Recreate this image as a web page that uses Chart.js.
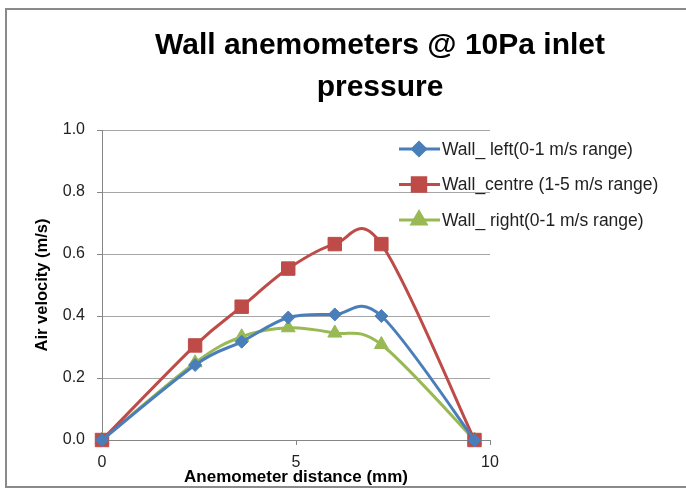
<!DOCTYPE html>
<html>
  <head>
    <script src="https://cdn.jsdelivr.net/npm/chart.js@4.4.0/dist/chart.umd.min.js"></script>
    <style>
      body { margin: 0; background: #fff; }
    </style>
  </head>

  <body>
    <canvas id="canvas" width="686" height="489"></canvas>
    <script>
      const titleLines = ['Wall anemometers @ 10Pa inlet', 'pressure'];
      const distances = [0, 2.4, 3.6, 4.8, 6.0, 7.2, 9.6];
      const wallLeft = [0, 0.242, 0.317, 0.395, 0.405, 0.40, 0];
      const wallCentre = [0, 0.305, 0.43, 0.553, 0.632, 0.632, 0];
      const wallRight = [0, 0.249, 0.333, 0.362, 0.345, 0.308, 0];
      const seriesNames = ['Wall_ left(0-1 m/s range)', 'Wall_centre (1-5 m/s range)', 'Wall_ right(0-1 m/s range)'];
      const xTitle = 'Anemometer distance (mm)';
      const yTitle = 'Air velocity (m/s)';

      const toPoints = (ys) => ys.map((y, i) => ({ x: distances[i], y: y }));

      const makeSet = (label, ys, color, style, radius) => ({
        label: label,
        data: toPoints(ys),
        showLine: true,
        borderColor: color,
        backgroundColor: color,
        borderWidth: 3,
        tension: 0.4,
        pointStyle: style,
        pointRadius: radius,
        pointHoverRadius: radius,
        pointBorderWidth: 1,
        pointBorderColor: color,
        pointBackgroundColor: color,
        clip: false,
      });

      // Excel-style smoothing: control points at 1/6 of the neighbour difference
      const excelSmooth = {
        id: 'excelSmooth',
        beforeDatasetDraw(chart, args) {
          const meta = args.meta;
          const line = meta.dataset;
          if (!line) return;
          line.updateControlPoints(chart.chartArea, meta.iScale.axis);
          const pts = meta.data;
          pts.forEach((p, i) => {
            const prev = pts[i - 1] || p;
            const next = pts[i + 1] || p;
            const dx = (next.x - prev.x) / 6;
            const dy = (next.y - prev.y) / 6;
            p.cp1x = p.x - dx;
            p.cp1y = p.y - dy;
            p.cp2x = p.x + dx;
            p.cp2y = p.y + dy;
          });
          line._path = undefined;
        },
      };

      // white background, outer frame, title and legend drawn by hand (Excel-like placement)
      const decor = {
        id: 'decor',
        beforeDraw(chart) {
          const ctx = chart.ctx;
          ctx.save();
          ctx.fillStyle = '#fff';
          ctx.fillRect(0, 0, chart.width, chart.height);
          ctx.restore();
        },
        afterDraw(chart) {
          const ctx = chart.ctx;
          ctx.save();
          ctx.strokeStyle = '#8a8a8a';
          ctx.lineWidth = 2;
          ctx.strokeRect(6, 9, chart.width + 10, 478);

          ctx.fillStyle = '#000';
          ctx.font = 'bold 30px "Liberation Sans"';
          ctx.textAlign = 'center';
          ctx.textBaseline = 'middle';
          ctx.fillText(titleLines[0], 380, 46);
          ctx.fillText(titleLines[1], 380, 88);

          ctx.textAlign = 'left';
          ctx.font = '17.5px "Liberation Sans"';
          chart.data.datasets.forEach((ds, i) => {
            const y = 149 + i * 35.5;
            ctx.strokeStyle = ds.borderColor;
            ctx.lineWidth = 3;
            ctx.beginPath();
            ctx.moveTo(399, y);
            ctx.lineTo(440, y);
            ctx.stroke();
            ctx.fillStyle = ds.pointBackgroundColor;
            ctx.strokeStyle = ds.pointBorderColor;
            Chart.helpers.drawPoint(ctx, { pointStyle: ds.pointStyle, radius: ds.pointRadius, rotation: 0, borderWidth: 1 }, 419, y);
            ctx.fillStyle = '#222';
            ctx.fillText(ds.label, 442, y + 1);
          });
          ctx.restore();
        },
      };

      new Chart(document.getElementById('canvas').getContext('2d'), {
        type: 'scatter',
        data: {
          datasets: [
            makeSet(seriesNames[0], wallLeft, '#4a7ebb', 'rectRot', 6.5),
            makeSet(seriesNames[1], wallCentre, '#be4b48', 'rect', 9.5),
            makeSet(seriesNames[2], wallRight, '#98b954', 'triangle', 8),
          ],
        },
        plugins: [excelSmooth, decor],
        options: {
          responsive: false,
          animation: false,
          devicePixelRatio: 1,
          layout: {
            padding: { left: 0, right: 196, top: 130, bottom: 0 },
          },
          scales: {
            x: {
              type: 'linear',
              min: 0,
              max: 10,
              afterFit: (scale) => { scale.height = 49; },
              ticks: {
                stepSize: 5,
                color: '#222',
                padding: 8,
                font: { family: 'Liberation Sans', size: 16 },
              },
              grid: {
                drawOnChartArea: false,
                tickLength: 5,
                color: '#868686',
              },
              border: { color: '#868686', width: 1 },
              title: {
                display: true,
                text: xTitle,
                color: '#000',
                padding: { top: 0, bottom: 1 },
                font: { family: 'Liberation Sans', size: 17, weight: 'bold' },
              },
            },
            y: {
              min: 0,
              max: 1,
              afterFit: (scale) => { scale.width = 102; },
              ticks: {
                stepSize: 0.2,
                color: '#222',
                padding: 12,
                font: { family: 'Liberation Sans', size: 16 },
                callback: (v) => v.toFixed(1),
              },
              grid: {
                color: '#a6a6a6',
                tickColor: '#868686',
                tickLength: 5,
              },
              border: { color: '#868686', width: 1 },
              title: {
                display: true,
                text: yTitle,
                color: '#000',
                padding: { top: 33, bottom: 0 },
                font: { family: 'Liberation Sans', size: 16.5, weight: 'bold' },
              },
            },
          },
          plugins: {
            legend: { display: false },
            title: { display: false },
            tooltip: { enabled: false },
          },
        },
      });
    </script>
  </body>
</html>
